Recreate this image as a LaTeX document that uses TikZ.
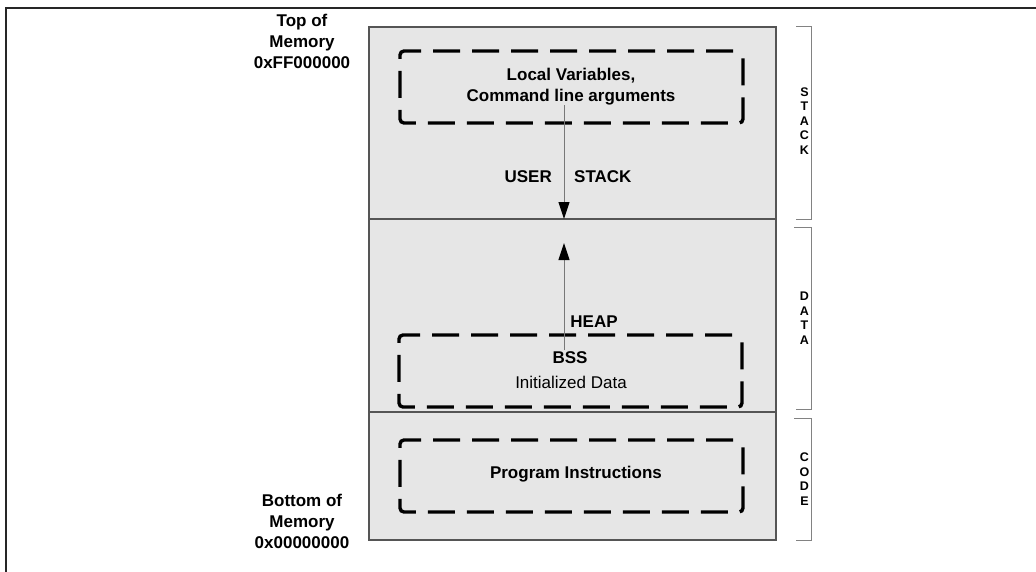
\documentclass[tikz,border=0pt]{standalone}
\usepackage{fontspec}
\setmainfont{Liberation Sans}
\usetikzlibrary{arrows.meta}
\definecolor{regionfill}{RGB}{230,230,230}
\definecolor{regionline}{RGB}{85,85,85}
\definecolor{bracketline}{RGB}{130,130,130}
\definecolor{arrowline}{RGB}{120,120,120}
\tikzset{
  region/.style={draw=regionline, line width=1.3pt, fill=regionfill, inner sep=0pt, outer sep=0pt, anchor=north west, minimum width=407pt},
  dashbox/.style={draw=black, line width=3.4pt, dash pattern=on 27pt off 12pt, dash phase=-6pt, rounded corners=4pt, inner sep=0pt, outer sep=0pt, anchor=north west, minimum width=343pt, minimum height=72pt},
  lbl/.style={font=\fontsize{17}{21}\selectfont\bfseries, align=center, inner sep=0pt},
  lblreg/.style={font=\fontsize{17}{21}\selectfont, align=center, inner sep=0pt},
  side/.style={font=\fontsize{12.5}{14.5}\selectfont\bfseries, align=center, inner sep=0pt},
  growarrow/.style={draw=arrowline, line width=1pt, -{Triangle[length=17pt,width=11pt,color=black]}},
  bracket/.style={draw=bracketline, line width=1pt},
  frame/.style={draw=black!85, line width=2pt}
}
\begin{document}
\begin{tikzpicture}[x=1pt,y=-1pt]
\useasboundingbox (0,0) rectangle (1036,571);
% outer frame (only left and top edges are visible)
\coordinate (fbl) at (6,572);
\coordinate (ftl) at (6,8);
\coordinate (ftr) at (1037,8);
\draw[frame] (fbl) -- (ftl) -- (ftr);
% memory regions
\node[region, minimum height=192pt] (stack) at (369,27) {};
\node[region, minimum height=193pt] (data) at (369,219) {};
\node[region, minimum height=128pt] (code) at (369,412) {};
% dashed boxes
\node[dashbox] (local) at (400,51) {};
\node[dashbox] (bss) at (399,335) {};
\node[dashbox] (prog) at (400,440) {};
% texts in boxes
\node[lbl] (localtxt) at (571,86.5) {Local Variables,\\Command line arguments};
\node[lbl] (bsstxt) at (570,358) {BSS};
\node[lblreg] (inittxt) at (571,382) {Initialized Data};
\node[lbl] (progtxt) at (576,474) {Program Instructions};
% arrows
\coordinate (a1s) at (564,105);
\coordinate (a1e) at (564,219);
\draw[growarrow] (a1s) -- (a1e);
\coordinate (a2s) at (564,350);
\coordinate (a2e) at (564,243);
\draw[growarrow] (a2s) -- (a2e);
\node[lbl, anchor=east] (user) at (552,177) {USER};
\node[lbl, anchor=west] (stk) at (574,177) {STACK};
\node[lbl] (heap) at (594,322) {HEAP};
% left address labels
\node[lbl] (top) at (302,41) {Top of\\Memory\\0xFF000000};
\node[lbl] (bottom) at (302,521) {Bottom of\\Memory\\0x00000000};
% right brackets
\coordinate (b1t) at (811,26);
\coordinate (b1b) at (811,219);
\draw[bracket] ([xshift=-15pt]b1t) -- (b1t) -- (b1b) -- ([xshift=-15pt]b1b);
\coordinate (b2t) at (811,227);
\coordinate (b2b) at (811,409);
\draw[bracket] ([xshift=-17pt]b2t) -- (b2t) -- (b2b) -- ([xshift=-15pt]b2b);
\coordinate (b3t) at (811,418);
\coordinate (b3b) at (811,540);
\draw[bracket] ([xshift=-17pt]b3t) -- (b3t) -- (b3b) -- ([xshift=-15pt]b3b);
\node[side] (stackside) at (804.5,121) {S\\T\\A\\C\\K};
\node[side] (dataside) at (804.5,318) {D\\A\\T\\A};
\node[side] (codeside) at (804.5,479) {C\\O\\D\\E};
\end{tikzpicture}
\end{document}
